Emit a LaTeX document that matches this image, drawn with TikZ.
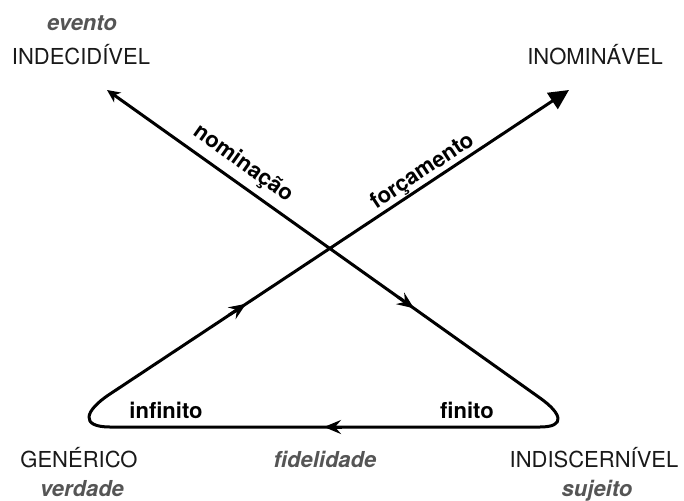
\documentclass[tikz,border=0pt]{standalone}
\usepackage{fontspec}
\setmainfont{TeX Gyre Heros}
\usetikzlibrary{arrows.meta}
\definecolor{txtgray}{HTML}{555555}
\begin{document}
\begin{tikzpicture}[x=1pt,y=-1pt,
  lbl/.style={font=\fontsize{22}{26}\selectfont, text=black!90, inner sep=0pt, anchor=base},
  sub/.style={font=\fontsize{22}{26}\selectfont\bfseries\itshape, text=txtgray, inner sep=0pt, anchor=base},
  onl/.style={font=\fontsize{22}{26}\selectfont\bfseries, inner sep=0pt},
  mainline/.style={line width=3pt, line join=round},
  midarrow/.style={line width=3pt, -{Stealth[length=17pt,width=14pt,inset=6pt]}}]
\useasboundingbox (0,0) rectangle (684,500);
% coordinates of the path
\coordinate (tl) at (107,90);
\coordinate (tr) at (569,90);
\coordinate (brA) at (540,398);
\coordinate (brB) at (540,427);
\coordinate (blA) at (110,427);
\coordinate (blB) at (110,394);
% main path
\draw[mainline, {Stealth[length=13pt,width=12pt,inset=4pt]}-{Triangle[length=20pt,width=19pt]}]
  (tl) -- (brA) .. controls (562,413.6) and (566,427) .. (brB)
  -- (blA) .. controls (80,427) and (84,411) .. (blB) -- (tr);
% mid arrows
\coordinate (m1a) at (398,296.9);
\coordinate (m1b) at (414,308.3);
\coordinate (m2a) at (342,427);
\coordinate (m2b) at (324,427);
\coordinate (m3a) at (229,315.1);
\coordinate (m3b) at (246,303.8);
\draw[midarrow] (m1a) -- (m1b);
\draw[midarrow] (m2a) -- (m2b);
\draw[midarrow] (m3a) -- (m3b);
% labels
\node[sub] (evento) at (82,31) {evento};
\node[lbl] (indec) at (81,65) {INDECIDÍVEL};
\node[lbl] (inom) at (595,65) {INOMINÁVEL};
\node[lbl] (gen) at (79,467) {GENÉRICO};
\node[sub] (verd) at (82,496) {verdade};
\node[sub] (fid) at (325,467) {fidelidade};
\node[lbl] (indis) at (594,467) {INDISCERNÍVEL};
\node[sub] (suj) at (597,496) {sujeito};
\node[onl, anchor=base] (inf) at (166,418) {infinito};
\node[onl, anchor=base] (fin) at (467,418) {finito};
\node[onl, rotate=-35.4] (nom) at (243,164) {nominação};
\node[onl, rotate=33.5] (forc) at (423,172) {forçamento};
\end{tikzpicture}
\end{document}
